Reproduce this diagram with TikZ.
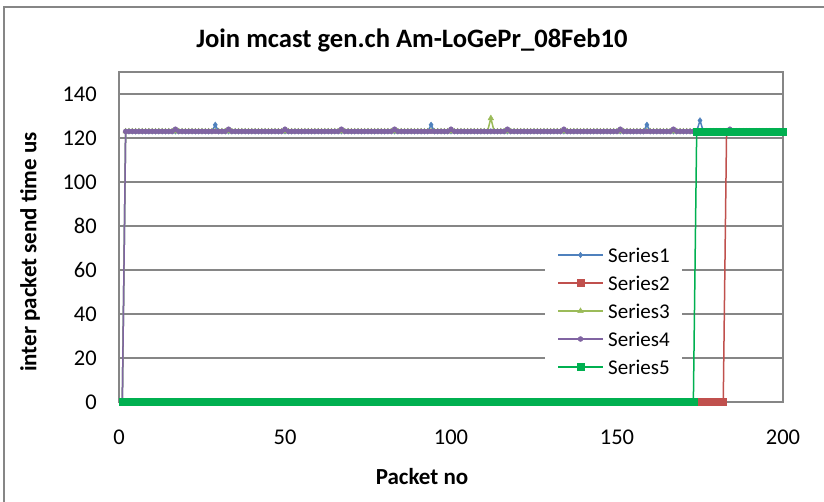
\documentclass[tikz,border=0pt]{standalone}
\usepackage{fontspec}
\setmainfont{Carlito}
\usetikzlibrary{plotmarks}
\definecolor{sOne}{HTML}{4F81BD}
\definecolor{sTwo}{HTML}{C0504D}
\definecolor{sThree}{HTML}{9BBB59}
\definecolor{sFour}{HTML}{8064A2}
\definecolor{sFive}{HTML}{00B050}
\definecolor{gridgray}{HTML}{868686}
\tikzset{
  gridline/.style={draw=gridgray, line width=1.2pt},
  frameline/.style={draw=gridgray, line width=1.5pt},
  ticklab/.style={font=\fontsize{22.5}{24}\selectfont, inner sep=0pt},
  axtitle/.style={font=\bfseries\fontsize{23}{26}\selectfont, inner sep=0pt},
  legtext/.style={font=\fontsize{21}{23}\selectfont, inner sep=0pt, anchor=west},
  dline/.style={line width=1.5pt, line join=round},
  mOne/.style={mark=diamond*, mark size=2.8pt, mark options={draw=sOne, fill=sOne, line width=0.4pt}},
  mTwo/.style={mark=square*, mark size=3.4pt, mark options={draw=sTwo, fill=sTwo, line width=0.4pt}},
  mThree/.style={mark=triangle*, mark size=3.2pt, mark options={draw=sThree, fill=sThree, line width=0.4pt}},
  mFour/.style={mark=*, mark size=2.5pt, mark options={draw=sFour, fill=sFour, line width=0.4pt}},
  mFive/.style={mark=square*, mark size=3.4pt, mark options={draw=sFive, fill=sFive, line width=0.4pt}},
}
\begin{document}
\begin{tikzpicture}[x=1pt, y=-1pt]
\useasboundingbox (0,0) rectangle (824,501);
\clip (0,0) rectangle (824,501);
\fill[white] (0,0) rectangle (824,501);
\draw[draw=gridgray, line width=1.2pt] (4,7) rectangle (840,520);
% title
\node[font=\bfseries\fontsize{26.6}{29}\selectfont, inner sep=0pt] (title) at (412,40) {Join mcast gen.ch Am-LoGePr\_08Feb10};
% axis titles
\node[axtitle, rotate=90] (ytitle) at (30,252) {inter packet send time us};
\node[axtitle] (xtitle) at (422,477) {Packet no};
% y tick labels
\foreach \v in {0,20,...,140} {
  \node[ticklab, anchor=east] (yl\v) at (97,{402-2.2*\v}) {\v};
}
% x tick labels
\foreach \v in {0,50,...,200} {
  \node[ticklab] (xl\v) at ({119+3.32*\v},437) {\v};
}
\begin{scope}[shift={(119,402)}, x=3.32pt, y=2.2pt]
  \foreach \v in {20,40,...,140} { \draw[gridline] (0,\v) -- (200,\v); }
  \draw[frameline] (0,0) rectangle (200,150);
  % Series1
  \draw[dline, sOne] (1,0) -- (2,123) -- (28,123) -- (29,126) -- (30,123) -- (93,123) -- (94,126) -- (95,123) -- (158,123) -- (159,126) -- (160,123) -- (174,123) -- (175,128) -- (176,123) -- (200,123);
  \path plot[only marks, mOne, variable=\p, samples at={1,...,200}] ({\p},{(\p==1) ? 0 : ((\p==29||\p==94||\p==159) ? 126 : ((\p==175) ? 128 : 123))});
  % Series2
  \draw[dline, sTwo] (1,0) -- (182,0) -- (183,123) -- (200,123);
  \path plot[only marks, mTwo, variable=\p, samples at={1,...,200}] ({\p},{(\p<183) ? 0 : 123});
  % Series3
  \draw[dline, sThree] (1,0) -- (2,123) -- (111,123) -- (112,129) -- (113,123) -- (200,123);
  \path plot[only marks, mThree, variable=\p, samples at={1,...,200}] ({\p},{(\p==1) ? 0 : ((\p==112) ? 129 : 123)});
  % Series4
  \draw[dline, sFour] (1,0) -- (2,123) -- (200,123);
  \path plot[only marks, mFour, variable=\p, samples at={1,...,200}] ({\p},{(\p==1) ? 0 : ((\p==17||\p==33||\p==50||\p==67||\p==83||\p==100||\p==117||\p==134||\p==151||\p==167||\p==184) ? 124 : 123)});
  % Series5
  \draw[dline, sFive] (1,0) -- (173,0) -- (174,123) -- (200,123);
  \path plot[only marks, mFive, variable=\p, samples at={1,...,200}] ({\p},{(\p<174) ? 0 : 123});
\end{scope}
% legend
\fill[white] (545,238) rectangle (682,378);
\foreach \i/\m/\c/\yy in {Series1/mOne/sOne/255, Series2/mTwo/sTwo/283, Series3/mThree/sThree/311, Series4/mFour/sFour/339, Series5/mFive/sFive/367} {
  \coordinate (la\i) at (558,\yy);
  \coordinate (lb\i) at (603,\yy);
  \coordinate (lm\i) at (580.5,\yy);
  \draw[dline, \c] (la\i) -- (lb\i);
  \path plot[only marks, \m] coordinates {(lm\i)};
  \node[legtext] (lt\i) at (608,\yy) {\i};
}
\end{tikzpicture}
\end{document}
